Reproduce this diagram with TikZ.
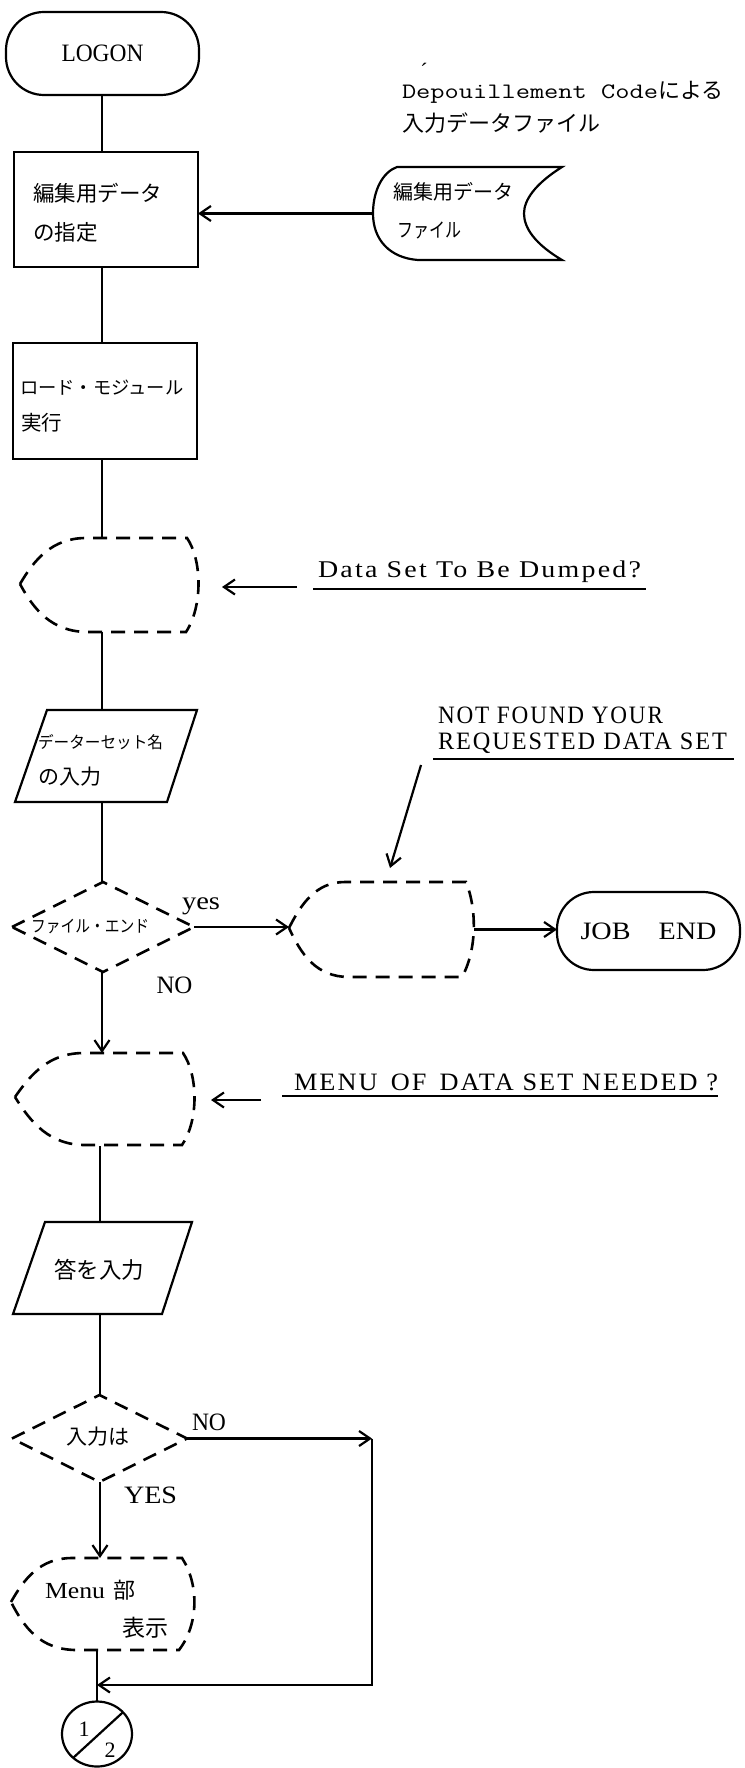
\documentclass[tikz,border=0pt]{standalone}
\usepackage{graphicx}
\usepackage{fontspec}
\setmainfont{Liberation Serif}
\newfontfamily\jp{Noto Sans CJK JP}
\newfontfamily\spaced[LetterSpace=8]{Liberation Serif}
\usetikzlibrary{arrows.meta,shapes.geometric}
% stretch a text horizontally to a given width, keeping its height
\newcommand\hfit[2]{\resizebox{#1}{\height}{#2}}
\newcommand\fs[1]{\fontsize{#1}{#1}\selectfont}

\begin{document}
\begin{tikzpicture}[x=1pt,y=-1pt,
  ln/.style={line width=2.2pt},
  dsh/.style={line width=2.6pt, dash pattern=on 14pt off 9pt},
  tip/.style={ln, -{Straight Barb[length=11pt,width=15pt]}},
  frame/.style={inner sep=0pt, outer sep=0pt},
  box/.style={frame, draw, ln},
  term/.style={box, rounded corners=38pt},
  lbl/.style={inner sep=0pt, outer sep=0pt},
  lw/.style={lbl, anchor=west},
]
\useasboundingbox (0,0) rectangle (744,1768);
\fill[white] (0,0) rectangle (744,1768);
\coordinate (col) at (102,0);
\coordinate (colb) at (100,0);

% ---- start
\node[term, minimum width=193pt, minimum height=83pt] (logon) at (102.5,53.5) {\fs{25}\hfit{82pt}{LOGON}};

% ---- note on the input file
\node[lw] (note1) at (402,92) {\ttfamily\fs{22}\hfit{256pt}{Depouillement Code}\jp\fs{22}による};
\node[lbl] (acc) at (424,71) {\fs{22}´};
\node[lw] (note2) at (402,123) {\jp\fs{22}入力データファイル};

% ---- edit data selection
\node[box, minimum width=184pt, minimum height=115pt] (r1) at (106,209.5) {};
\node[lw] (r1a) at (33,193) {\jp\fs{21.5}編集用データ};
\node[lw] (r1b) at (33,232) {\jp\fs{21.5}の指定};

% ---- stored data file
\node[frame, minimum width=189pt, minimum height=93pt] (dfile) at (467.5,213.5) {};
\draw[ln] (397,167) -- (562,167) .. controls (535,184) and (524,200) .. (524,213.5)
  .. controls (524,228) and (535,244) .. (562,260) -- (418,260)
  .. controls (390,258) and (373,240) .. (373,213.5)
  .. controls (373,190) and (383,172) .. (397,167) -- cycle;
\node[lw] (dfa) at (393,192) {\jp\fs{20}編集用データ};
\node[lw] (dfb) at (397,230) {\jp\fs{20}\hfit{64pt}{ファイル}};

% ---- load module
\node[box, minimum width=184pt, minimum height=116pt] (r2) at (105,401) {};
\node[lw] (r2a) at (20,388) {\jp\fs{18.3}ロード・モジュール};
\node[lw] (r2b) at (21,423) {\jp\fs{20.5}実行};

% ---- display 1
\node[frame, minimum width=181pt, minimum height=94pt] (disp1) at (109.5,585) {};
\draw[dsh] (20,584) .. controls (34,560) and (52,538) .. (86,538) -- (187,538)
  .. controls (202,560) and (203,606) .. (186,632) -- (88,632)
  .. controls (52,632) and (34,610) .. (20,584);
\node[lw] (q1) at (318,572) {\spaced\fs{24}\hfit{323pt}{Data Set To Be Dumped?}};
\draw[ln] (313,589) -- (646,589);
\coordinate (q1s) at (297,587);
\coordinate (q1e) at (222,587);

% ---- data set name input
\node[frame, minimum width=185pt, minimum height=93pt] (p1) at (106.5,756.5) {};
\draw[ln] (47,710) -- (197,710) -- (167,802) -- (15,802) -- cycle;
\node[lw] (p1a) at (38,742) {\jp\fs{16.5}\hfit{125pt}{データーセット名}};
\node[lw] (p1b) at (38,777) {\jp\fs{21}の入力};

% ---- end of file decision
\node[frame, minimum width=182pt, minimum height=90pt] (d1) at (103,927) {};
\draw[dsh] (d1.west) -- (d1.north) -- (d1.east) -- (d1.south) -- cycle;
\node[lw] (d1t) at (31,927) {\jp\fs{17}\hfit{118pt}{ファイル・エンド}};
\node[lbl] (yes) at (201,906) {\fs{25}\hfit{38pt}{yes}};
\node[lbl] (no1) at (174.5,985) {\fs{25}\hfit{36pt}{NO}};

% ---- not found message
\node[lw] (nf1) at (438,715) {\spaced\fs{25}\hfit{225pt}{NOT FOUND YOUR}};
\node[lw] (nf2) at (438,743) {\spaced\fs{25}\hfit{289pt}{REQUESTED DATA SET}};
\draw[ln] (433,759) -- (734,759);
\coordinate (nfs) at (421,765);
\coordinate (nfe) at (390,868);

\node[frame, minimum width=185pt, minimum height=95pt] (disp2) at (381.5,929.5) {};
\draw[dsh] (289,928) .. controls (301,904) and (316,882) .. (345,882) -- (466,882)
  .. controls (477,909) and (477,950) .. (462,977) -- (349,977)
  .. controls (316,977) and (301,954) .. (289,928);

\node[term, minimum width=183pt, minimum height=78pt, rounded corners=37pt] (jobend) at (648.5,931) {\fs{25}\hfit{136pt}{JOB\quad END}};

% ---- menu question
\node[frame, minimum width=179pt, minimum height=93pt] (disp3) at (106.5,1099.5) {};
\draw[dsh] (15,1097) .. controls (31,1074) and (49,1053) .. (84,1053) -- (183,1053)
  .. controls (198,1075) and (199,1120) .. (182,1145) -- (85,1145)
  .. controls (50,1145) and (31,1123) .. (15,1097);
\node[lw] (q2) at (294,1082) {\spaced\fs{25}\hfit{424pt}{MENU\enspace OF\enspace DATA SET NEEDED ?}};
\draw[ln] (282,1096) -- (718,1096);
\coordinate (q2s) at (261,1100);
\coordinate (q2e) at (211,1100);

% ---- answer input
\node[frame, minimum width=181pt, minimum height=93pt] (p2) at (103.5,1268.5) {};
\draw[ln] (45,1222) -- (192,1222) -- (162,1314) -- (13,1314) -- cycle;
\node[lbl] (p2t) at (99,1270) {\jp\fs{22.5}答を入力};

% ---- answer decision
\node[frame, minimum width=175pt, minimum height=87pt] (d2) at (99.5,1438.5) {};
\draw[dsh] (d2.west) -- (d2.north) -- (d2.east) -- (d2.south) -- cycle;
\node[lbl] (d2t) at (97.5,1437) {\jp\fs{21}入力は};
\node[lbl] (no2) at (209,1422) {\fs{25}\hfit{34pt}{NO}};
\node[lbl] (yes2) at (150.5,1495) {\fs{25}\hfit{53pt}{YES}};
\coordinate (cr) at (372,1438.5);

% ---- menu display
\node[frame, minimum width=183pt, minimum height=92pt] (disp4) at (102.5,1604) {};
\draw[dsh] (11,1602) .. controls (24,1579) and (40,1558) .. (72,1558) -- (182,1558)
  .. controls (199,1584) and (199,1624) .. (179,1650) -- (77,1650)
  .. controls (40,1650) and (24,1627) .. (11,1602);
\node[lw] (m4a) at (45,1590) {\fs{23}\hfit{60pt}{Menu}\hspace{8pt}\jp\fs{22}部};
\node[lw] (m4b) at (122,1628) {\jp\fs{23}表示};

% ---- off-page connector
\node[draw, ln, ellipse, inner sep=0pt, outer sep=0pt, minimum width=70pt, minimum height=65pt] (conn) at (97,1734) {};
\draw[ln] (conn.225) -- (conn.40);
\node[lbl] (c1) at (84,1729) {\fs{22}1};
\node[lbl] (c2) at (110,1750) {\fs{22}2};
\coordinate (mg) at (97,1685);

% ---- connectors
\draw[ln] (logon.south -| col) -- (r1.north -| col);
\draw[tip] (dfile.west) -- (dfile.west -| r1.east);
\draw[ln] (r1.south -| col) -- (r2.north -| col);
\draw[ln] (r2.south -| col) -- (disp1.north -| col);
\draw[tip] (q1s) -- (q1e);
\draw[ln] (disp1.south -| col) -- (p1.north -| col);
\draw[ln] (p1.south -| col) -- (d1.north -| col);
\draw[tip] (nfs) -- (nfe);
\draw[tip] (d1.east) -- (d1.east -| disp2.west);
\draw[tip] (disp2.east) -- (disp2.east -| jobend.west);
\draw[tip] (d1.south -| col) -- (disp3.north -| col);
\draw[tip] (q2s) -- (q2e);
\draw[ln] (disp3.south -| colb) -- (p2.north -| colb);
\draw[ln] (p2.south -| colb) -- (d2.north -| colb);
\draw[tip] (d2.east) -- (cr);
\draw[tip] (d2.south -| colb) -- (disp4.north -| colb);
\draw[ln] (conn.north) -- (conn.north |- disp4.south);
\draw[tip] (cr) -- (cr |- mg) -- (mg);
\end{tikzpicture}
\end{document}
